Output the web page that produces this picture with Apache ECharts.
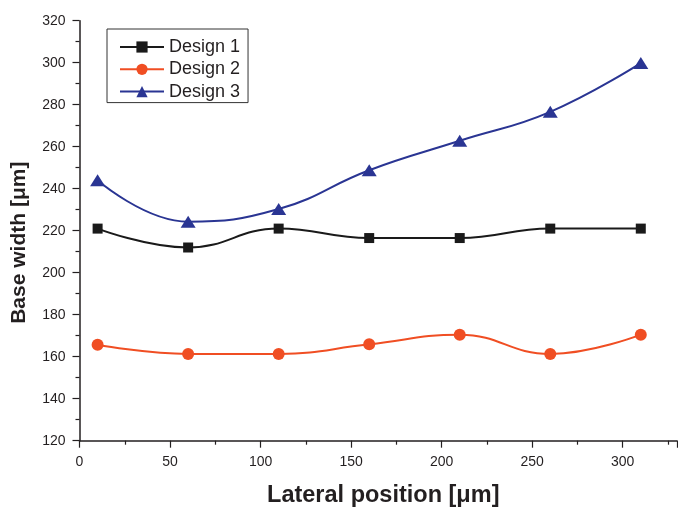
<!DOCTYPE html>
<html>
<head>
<meta charset="utf-8">
<script src="https://cdn.jsdelivr.net/npm/echarts@6/dist/echarts.min.js"></script>
<style>
  html, body { margin: 0; padding: 0; background: #fff; }
  #chart { width: 678px; height: 507px; }
</style>
</head>
<body>
<div id="chart"></div>
<script>
// Lateral positions along the device [µm]
const positions = [10, 60, 110, 160, 210, 260, 310];
// Measured base widths [µm] for each design
const design1 = [221, 212, 221, 216.5, 216.5, 221, 221];
const design2 = [165.7, 161.3, 161.3, 165.9, 170.5, 161.3, 170.5];
const design3 = [244, 224.3, 230.3, 248.8, 262.8, 276.6, 299.8];
const seriesNames = ['Design 1', 'Design 2', 'Design 3'];

const pairs = (ys) => positions.map((x, i) => [x, ys[i]]);
const axisColor = '#231f20';
const font = 'Liberation Sans, Arial, sans-serif';

const chart = echarts.init(document.getElementById('chart'), null, { renderer: 'canvas' });
chart.setOption({
  animation: false,
  backgroundColor: '#fff',
  grid: { left: 79.5, right: 1, top: 20.7, height: 420, containLabel: false, outerBoundsMode: 'none' },
  legend: {
    orient: 'vertical',
    left: 107,
    top: 29,
    data: seriesNames,
    itemWidth: 44,
    itemHeight: 14,
    itemGap: 2.3,
    padding: [8, 8, 1, 12],
    borderColor: '#333',
    borderWidth: 1,
    textStyle: { fontFamily: font, fontSize: 18, color: axisColor, lineHeight: 20 }
  },
  xAxis: {
    type: 'value',
    min: 0, max: 330, interval: 50,
    name: 'Lateral position [\u03bcm]',
    nameLocation: 'middle',
    nameGap: 43,
    nameTextStyle: { fontFamily: font, fontSize: 23.5, fontWeight: 'bold', color: axisColor, padding: [0, 0, 0, 10] },
    axisLine: { lineStyle: { color: axisColor, width: 1.5 } },
    axisTick: { length: 7, lineStyle: { color: axisColor, width: 1.2 } },
    minorTick: { show: true, splitNumber: 2, length: 4, lineStyle: { color: axisColor, width: 1.2 } },
    axisLabel: { fontFamily: font, fontSize: 14, color: axisColor, margin: 14, showMaxLabel: false },
    splitLine: { show: false }
  },
  yAxis: {
    type: 'value',
    min: 120, max: 320, interval: 20,
    name: 'Base width [\u03bcm]',
    nameLocation: 'middle',
    nameGap: 50,
    nameTextStyle: { fontFamily: font, fontSize: 21, fontWeight: 'bold', color: axisColor, padding: [0, 24, 0, 0] },
    axisLine: { show: true, lineStyle: { color: axisColor, width: 1.5 } },
    axisTick: { show: true, length: 7, lineStyle: { color: axisColor, width: 1.2 } },
    minorTick: { show: true, splitNumber: 2, length: 4, lineStyle: { color: axisColor, width: 1.2 } },
    axisLabel: { fontFamily: font, fontSize: 14, color: axisColor, margin: 14 },
    splitLine: { show: false }
  },
  series: [
    {
      name: seriesNames[0], type: 'line', data: pairs(design1), smooth: 0.45,
      symbol: 'rect', symbolSize: 10,
      itemStyle: { color: '#1a1a1a' }, lineStyle: { color: '#1a1a1a', width: 2 }
    },
    {
      name: seriesNames[1], type: 'line', data: pairs(design2), smooth: 0.45,
      symbol: 'circle', symbolSize: 12,
      itemStyle: { color: '#f04e23' }, lineStyle: { color: '#f04e23', width: 2 }
    },
    {
      name: seriesNames[2], type: 'line', data: pairs(design3), smooth: 0.45,
      symbol: 'triangle', symbolSize: [15, 12],
      itemStyle: { color: '#2a3593' }, lineStyle: { color: '#2a3593', width: 2 }
    }
  ]
});
</script>
</body>
</html>
